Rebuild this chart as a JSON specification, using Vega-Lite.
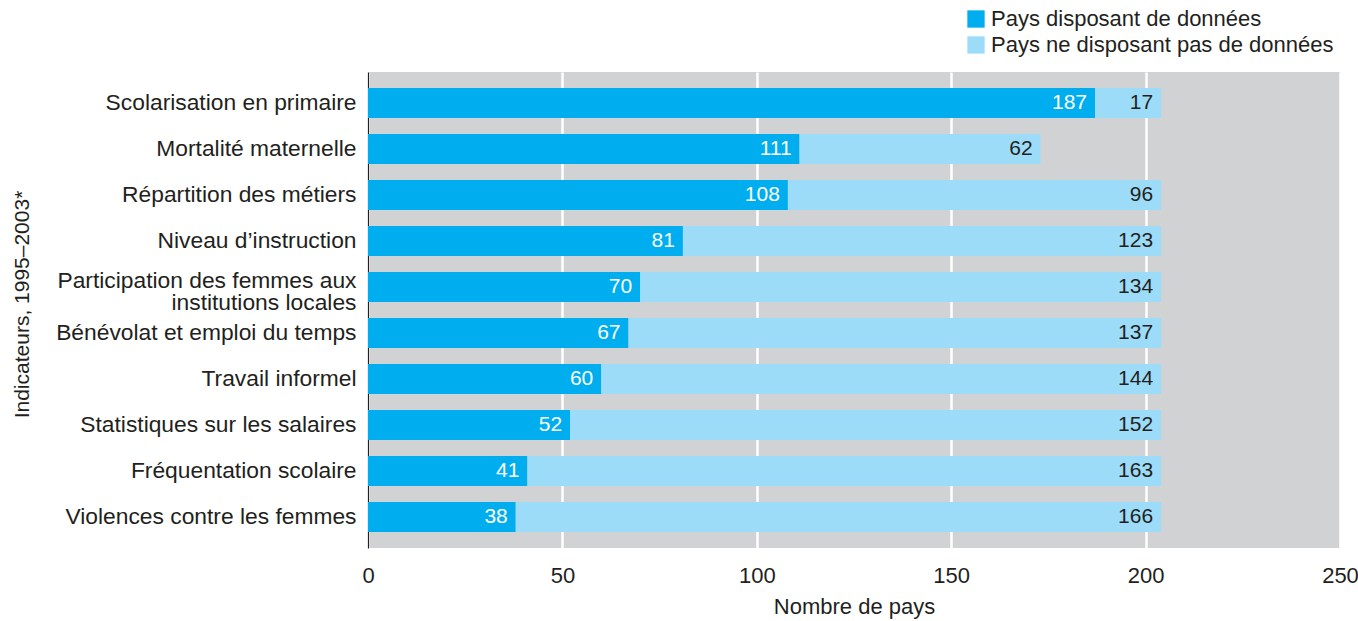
{
  "$schema": "https://vega.github.io/schema/vega-lite/v6.json",
  "width": 972,
  "height": 476,
  "autosize": {"type": "none"},
  "padding": {"left": 368, "top": 72, "right": 18, "bottom": 73},
  "background": "white",
  "config": {
    "font": "Liberation Sans",
    "view": {"fill": "#D1D2D4", "stroke": null},
    "axis": {"labelFont": "Liberation Sans", "titleFont": "Liberation Sans", "labelColor": "#231f20", "titleColor": "#231f20", "titleFontWeight": "normal"}
  },
  "data": {
    "values": [
      {"indicateur": "Scolarisation en primaire", "serie": "Pays disposant de données", "n": 187},
      {"indicateur": "Scolarisation en primaire", "serie": "Pays ne disposant pas de données", "n": 17},
      {"indicateur": "Mortalité maternelle", "serie": "Pays disposant de données", "n": 111},
      {"indicateur": "Mortalité maternelle", "serie": "Pays ne disposant pas de données", "n": 62},
      {"indicateur": "Répartition des métiers", "serie": "Pays disposant de données", "n": 108},
      {"indicateur": "Répartition des métiers", "serie": "Pays ne disposant pas de données", "n": 96},
      {"indicateur": "Niveau d’instruction", "serie": "Pays disposant de données", "n": 81},
      {"indicateur": "Niveau d’instruction", "serie": "Pays ne disposant pas de données", "n": 123},
      {"indicateur": "Participation des femmes aux|institutions locales", "serie": "Pays disposant de données", "n": 70},
      {"indicateur": "Participation des femmes aux|institutions locales", "serie": "Pays ne disposant pas de données", "n": 134},
      {"indicateur": "Bénévolat et emploi du temps", "serie": "Pays disposant de données", "n": 67},
      {"indicateur": "Bénévolat et emploi du temps", "serie": "Pays ne disposant pas de données", "n": 137},
      {"indicateur": "Travail informel", "serie": "Pays disposant de données", "n": 60},
      {"indicateur": "Travail informel", "serie": "Pays ne disposant pas de données", "n": 144},
      {"indicateur": "Statistiques sur les salaires", "serie": "Pays disposant de données", "n": 52},
      {"indicateur": "Statistiques sur les salaires", "serie": "Pays ne disposant pas de données", "n": 152},
      {"indicateur": "Fréquentation scolaire", "serie": "Pays disposant de données", "n": 41},
      {"indicateur": "Fréquentation scolaire", "serie": "Pays ne disposant pas de données", "n": 163},
      {"indicateur": "Violences contre les femmes", "serie": "Pays disposant de données", "n": 38},
      {"indicateur": "Violences contre les femmes", "serie": "Pays ne disposant pas de données", "n": 166}
    ]
  },
  "encoding": {
    "y": {
      "field": "indicateur",
      "type": "nominal",
      "sort": null,
      "scale": {"paddingInner": 0.35, "paddingOuter": 0.35},
      "axis": {
        "title": "Indicateurs, 1995–2003*",
        "titleFontSize": 21,
        "titleX": -346,
        "titleY": 232,
        "titleAlign": "center",
        "titleBaseline": "middle",
        "titleAngle": -90,
        "labelFontSize": 22.8,
        "labelPadding": 12,
        "labelLimit": 400,
        "labelLineHeight": 22,
        "labelExpr": "split(datum.label, '|')",
        "labelOffset": {"condition": {"test": "indexof(datum.value, '|') >= 0", "value": -6}, "value": 0},
        "ticks": false,
        "domain": true,
        "domainColor": "#231f20",
        "domainWidth": 1.2
      }
    },
    "x": {
      "field": "n",
      "type": "quantitative",
      "stack": "zero",
      "scale": {"domain": [0, 250]},
      "axis": {
        "title": "Nombre de pays",
        "titleFontSize": 22,
        "titlePadding": 10,
        "labelFontSize": 22,
        "labelPadding": 17,
        "values": [0, 50, 100, 150, 200, 250],
        "labelOverlap": false,
        "labelFlush": false,
        "ticks": false,
        "domain": false,
        "grid": true,
        "gridColor": "white",
        "gridWidth": 2.5
      }
    },
    "order": {"field": "serie", "sort": "ascending"}
  },
  "layer": [
    {
      "mark": {"type": "bar"},
      "encoding": {
        "color": {
          "field": "serie",
          "type": "nominal",
          "scale": {"domain": ["Pays disposant de données", "Pays ne disposant pas de données"], "range": ["#00AEEF", "#9DDCF9"]},
          "legend": {
            "title": null,
            "orient": "none",
            "legendX": 597,
            "legendY": -64,
            "symbolType": "square",
            "symbolSize": 300,
            "symbolStrokeWidth": 0,
            "labelFontSize": 22,
            "labelColor": "#231f20",
            "labelFont": "Liberation Sans",
            "rowPadding": 4,
            "labelOffset": 4,
            "labelLimit": 500
          }
        }
      }
    },
    {
      "mark": {"type": "text", "align": "right", "baseline": "middle", "dx": -8, "fontSize": 21},
      "encoding": {
        "detail": {"field": "serie", "type": "nominal"},
        "text": {"field": "n", "type": "quantitative"},
        "color": {
          "condition": {"test": "datum.serie === 'Pays disposant de données'", "value": "white"},
          "value": "#231f20"
        }
      }
    }
  ]
}
